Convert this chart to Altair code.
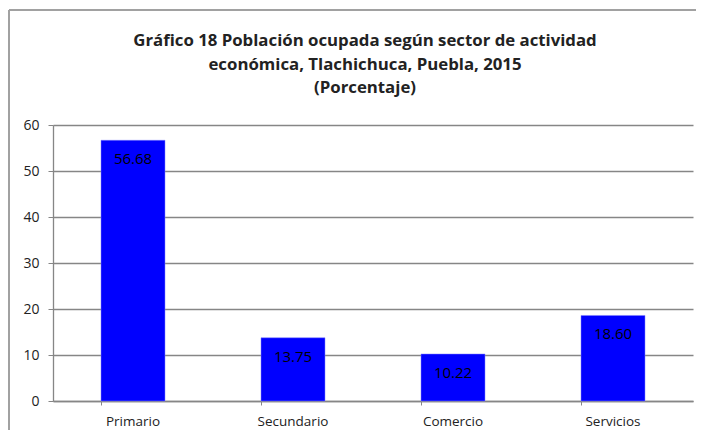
import altair as alt
import pandas as pd

categories = ["Primario", "Secundario", "Comercio", "Servicios"]
values = [56.68, 13.75, 10.22, 18.60]
labels = ["56.68", "13.75", "10.22", "18.60"]
y_ticks = [0, 10, 20, 30, 40, 50, 60]
title_lines = ["Gráfico 18 Población ocupada según sector de actividad",
               "económica, Tlachichuca, Puebla, 2015",
               "(Porcentaje)"]

df = pd.DataFrame({"sector": categories, "pct": values, "label": labels})

FONT = "Open Sans"
GRAY = "#868686"

base = alt.Chart(df).encode(
    x=alt.X("sector:N", sort=categories,
            scale=alt.Scale(paddingInner=0.6, paddingOuter=0.3),
            axis=alt.Axis(title=None, labelAngle=0, bandPosition=0,
                          labelFontSize=13.5, labelColor="#222222", labelFont=FONT,
                          labelPadding=9, tickSize=4, tickColor=GRAY,
                          domainColor=GRAY, domainWidth=1.3, grid=False)),
)

bars = base.mark_bar(color="#0000FF", stroke="#8080ff", strokeWidth=0.5).encode(
    y=alt.Y("pct:Q", scale=alt.Scale(domain=[0, 60]),
            axis=alt.Axis(title=None, values=y_ticks, labelFontSize=14,
                          labelColor="#222222", labelFont=FONT, labelPadding=9,
                          tickSize=5, tickColor=GRAY, domainColor=GRAY,
                          domainWidth=1.3, gridColor=GRAY, gridWidth=1.3)),
)

text = base.mark_text(baseline="middle", dy=19, fontSize=15, font=FONT,
                      color="#000000").encode(
    y=alt.Y("pct:Q"),
    text="label:N",
)

frame_top = alt.Chart(df).mark_rule(stroke="#a0a0a0", strokeWidth=1.5).encode(
    x=alt.value(-44), x2=alt.value(700), y=alt.value(-115)
)
frame_left = alt.Chart(df).mark_rule(stroke="#a0a0a0", strokeWidth=1.5).encode(
    x=alt.value(-44), y=alt.value(-115), y2=alt.value(340)
)

title_layers = []
title_y = [-79, -55.5, -32]
for i, line in enumerate(title_lines):
    title_layers.append(
        alt.Chart(pd.DataFrame({"t": [line]})).mark_text(
            fontSize=16.8, font=FONT, fontWeight="bold", color="#222222",
            align="center", baseline="alphabetic"
        ).encode(text="t:N", x=alt.value(312), y=alt.value(title_y[i]))
    )

chart = alt.layer(frame_top, frame_left, bars, text, *title_layers).properties(
    width=640, height=276,
    autosize=alt.AutoSizeParams(type="none"),
    padding={"left": 45, "top": 117, "right": 3, "bottom": 29},
).configure_view(stroke=None)

chart.save("out.html", embed_options={"renderer": "svg", "actions": False})
